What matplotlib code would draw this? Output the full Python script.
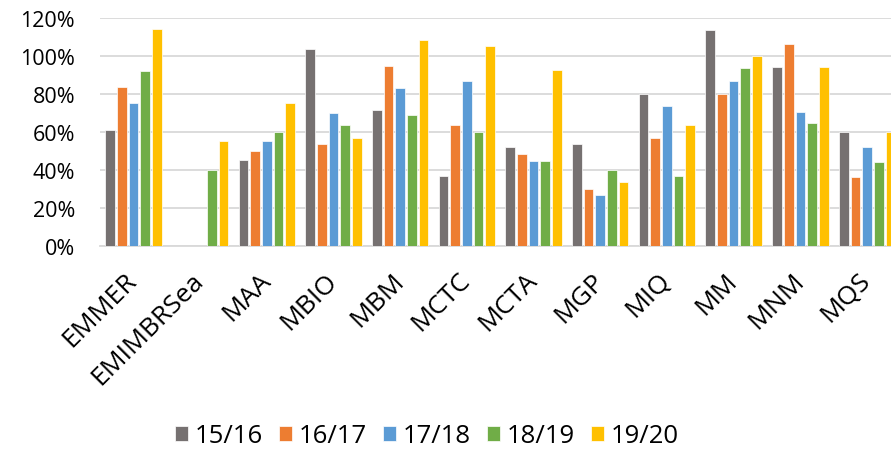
import numpy as np
import matplotlib
matplotlib.use("Agg")
import matplotlib.pyplot as plt
from matplotlib.ticker import FuncFormatter

categories = ["EMMER", "EMIMBRSea", "MAA", "MBIO", "MBM", "MCTC",
              "MCTA", "MGP", "MIQ", "MM", "MNM", "MQS"]
years = ["15/16", "16/17", "17/18", "18/19", "19/20"]

v1516 = [61, np.nan, 45, 103.5, 71.4, 36.5, 51.9, 53.4, 80, 113.4, 94, 60]
v1617 = [83.4, np.nan, 50, 53.4, 94.4, 63.7, 48.2, 30, 56.7, 80, 106, 36.2]
v1718 = [75, np.nan, 55, 70, 82.8, 86.7, 44.6, 26.7, 73.3, 86.7, 70.5, 52.1]
v1819 = [91.8, 40, 60, 63.3, 68.6, 60, 44.6, 40, 36.8, 93.3, 64.6, 44]
v1920 = [113.9, 55, 75, 56.7, 108.1, 104.9, 92.6, 33.3, 63.3, 100, 94, 60]

colors = ["#767171", "#ED7D31", "#5B9BD5", "#70AD47", "#FFC000"]
series = [v1516, v1617, v1718, v1819, v1920]

plt.rcParams['font.family'] = ['Open Sans', 'DejaVu Sans']

fig = plt.figure(figsize=(8.91, 4.52), dpi=100)
ax = fig.add_axes([100 / 891, 0.4542, 800.4 / 891, 0.5044])

x = np.arange(len(categories))
pitch = 0.175
for i, (vals, c, lab) in enumerate(zip(series, colors, years)):
    ax.bar(x + (i - 2) * pitch, vals, width=0.145, color=c, label=lab,
           edgecolor="white", linewidth=0.5, zorder=3)

ax.set_xlim(-0.5, len(categories) - 0.5)
ax.set_ylim(0, 120)
ax.set_yticks(np.arange(0, 121, 20))
ax.yaxis.set_major_formatter(FuncFormatter(lambda v, p: f"{v:.0f}%"))
ax.grid(axis="y", color="#d9d9d9", linewidth=1.3, zorder=0)
for s in ["top", "right", "left"]:
    ax.spines[s].set_visible(False)
ax.spines["bottom"].set_color("#d9d9d9")
ax.spines["bottom"].set_linewidth(1.3)
ax.tick_params(axis="y", length=0, pad=18, labelsize=15.5)
ax.tick_params(axis="x", length=0, pad=22, labelsize=19)
ax.set_xticks(x)
ax.set_xticklabels(categories, rotation=45, ha="right", va="center",
                   rotation_mode="anchor")

fig.legend(loc="center", bbox_to_anchor=(427 / 891, 1 - 437 / 452), ncol=5,
           frameon=False, fontsize=18.5, handlelength=0.5, handleheight=0.5,
           handletextpad=0.27, columnspacing=0.62)

fig.savefig("out.png", dpi=100)
